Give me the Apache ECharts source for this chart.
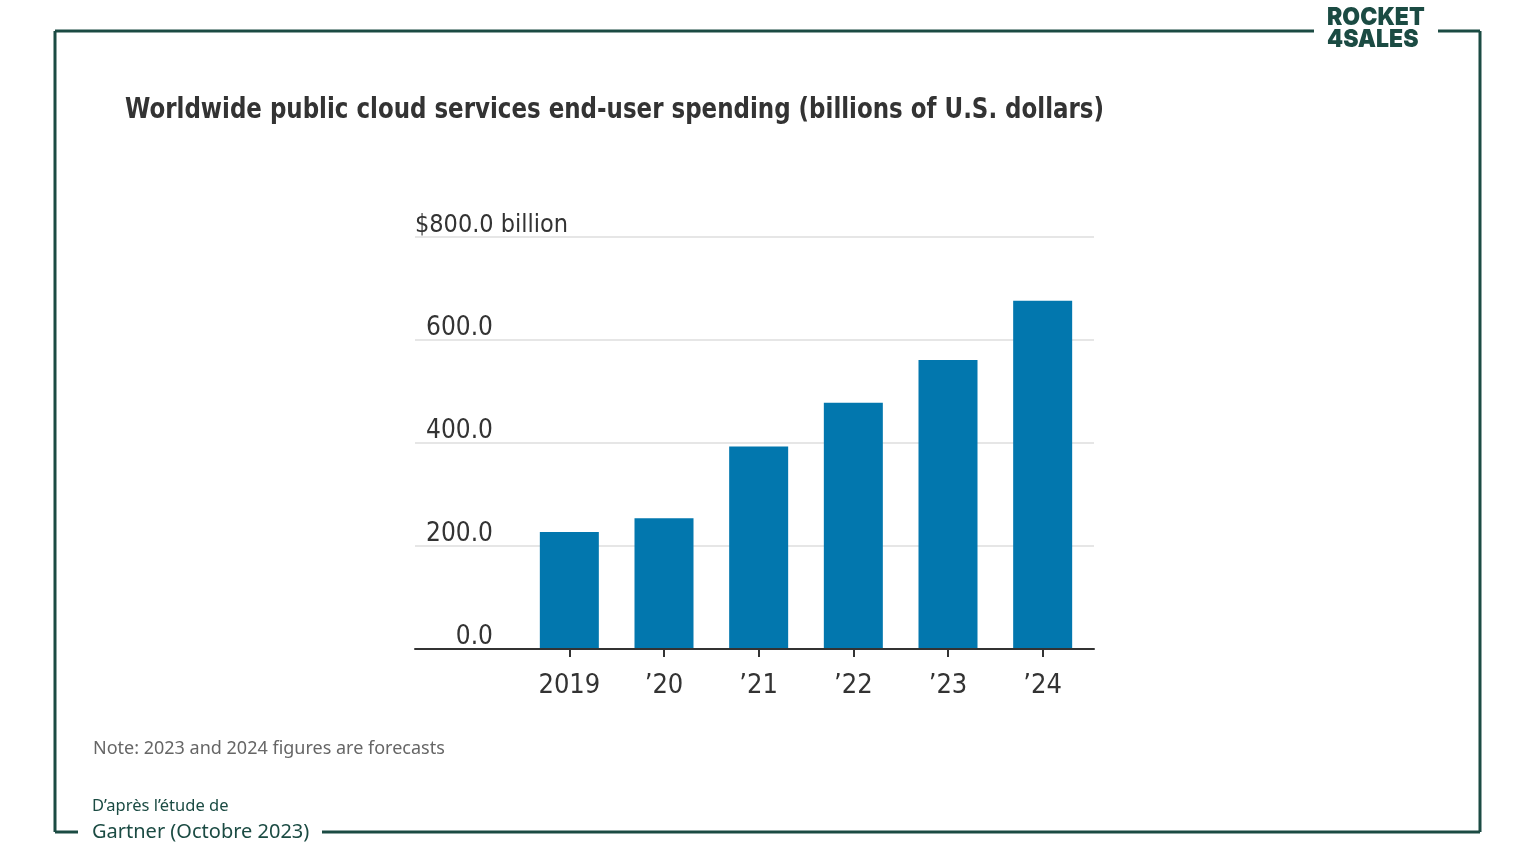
<!DOCTYPE html>
<html>
<head>
<meta charset="utf-8">
<script src="https://cdn.jsdelivr.net/npm/echarts@6/dist/echarts.min.js"></script>
<style>
  html, body { margin: 0; padding: 0; background: #fff; }
  #chart { width: 1536px; height: 864px; }
</style>
</head>
<body>
<div id="chart"></div>
<script>
const years = ['2019', '\u201920', '\u201921', '\u201922', '\u201923', '\u201924']
const spending = [227, 254, 393, 478, 561, 676]
const yTicks = [0, 200, 400, 600, 800]

const green = '#1b4b43'
const narrow = '"Liberation Sans Narrow", "DejaVu Sans Condensed", sans-serif'

const chart = echarts.init(document.getElementById('chart'))

const frame = [
  [[55, 31], [1314, 31]],
  [[1438, 31], [1480, 31]],
  [[1480, 31], [1480, 832]],
  [[1480, 832], [322, 832]],
  [[78, 832], [55, 832]],
  [[55, 832], [55, 31]]
].map(seg => ({
  type: 'polyline',
  shape: { points: seg },
  style: { stroke: green, lineWidth: 3, fill: null }
}))

const option = {
  animation: false,
  grid: [
    { left: 415, top: 237, width: 679, height: 412 },
    { left: 522, top: 237, width: 568, height: 412 }
  ],
  xAxis: [
    {
      gridIndex: 0,
      type: 'value',
      min: 0,
      max: 1,
      z: 5,
      axisLine: { show: true, onZero: false, lineStyle: { color: '#333', width: 2 } },
      axisTick: { show: false },
      axisLabel: { show: false },
      splitLine: { show: false }
    },
    {
      gridIndex: 1,
      type: 'category',
      data: years,
      axisLine: { show: false },
      axisTick: { show: true, alignWithLabel: true, length: 8, lineStyle: { color: '#333', width: 2 } },
      axisLabel: { margin: 23, fontSize: 27, color: '#333', fontFamily: narrow }
    }
  ],
  yAxis: [
    {
      gridIndex: 0,
      type: 'value',
      min: 0,
      max: 800,
      interval: 200,
      axisLine: { show: false },
      axisTick: { show: false },
      splitLine: { lineStyle: { color: '#e6e6e6', width: 2 } },
      axisLabel: {
        inside: true,
        margin: 0,
        verticalAlign: 'bottom',
        formatter: v => v === yTicks[yTicks.length - 1]
          ? '{t|$' + v.toFixed(1) + ' billion}'
          : '{n|' + v.toFixed(1) + '}',
        rich: {
          t: { fontSize: 25, color: '#333', fontFamily: narrow, align: 'left', lineHeight: 24 },
          n: { fontSize: 26, color: '#333', fontFamily: narrow, width: 78, align: 'right', lineHeight: 24 }
        }
      }
    },
    {
      gridIndex: 1,
      type: 'value',
      min: 0,
      max: 800,
      show: false
    }
  ],
  series: [
    {
      type: 'bar',
      xAxisIndex: 1,
      yAxisIndex: 1,
      data: spending,
      barWidth: 59,
      itemStyle: { color: '#0277ae' }
    }
  ],
  graphic: [
    ...frame,
    {
      type: 'text',
      x: 1327,
      y: 6,
      scaleX: 0.92,
      style: {
        text: 'ROCKET\n4SALES',
        font: '900 25px Inter, sans-serif',
        lineHeight: 22,
        fill: green
      }
    },
    {
      type: 'text',
      x: 125,
      y: 96,
      scaleX: 0.88,
      style: {
        text: 'Worldwide public cloud services end-user spending (billions of U.S. dollars)',
        font: 'bold 29px ' + narrow,
        fill: '#333'
      }
    },
    {
      type: 'text',
      left: 93,
      top: 740,
      style: {
        text: 'Note: 2023 and 2024 figures are forecasts',
        font: '18px "Noto Sans", sans-serif',
        fill: '#666'
      }
    },
    {
      type: 'text',
      left: 92,
      top: 798,
      style: {
        text: 'D\u2019apr\u00e8s l\u2019\u00e9tude de',
        font: '16.5px "Noto Sans", sans-serif',
        fill: green
      }
    },
    {
      type: 'text',
      left: 92,
      top: 822,
      style: {
        text: 'Gartner (Octobre 2023)',
        font: '20px "Noto Sans", sans-serif',
        fill: green
      }
    }
  ]
}

chart.setOption(option)
window.addEventListener('resize', () => chart.resize())
</script>
</body>
</html>
